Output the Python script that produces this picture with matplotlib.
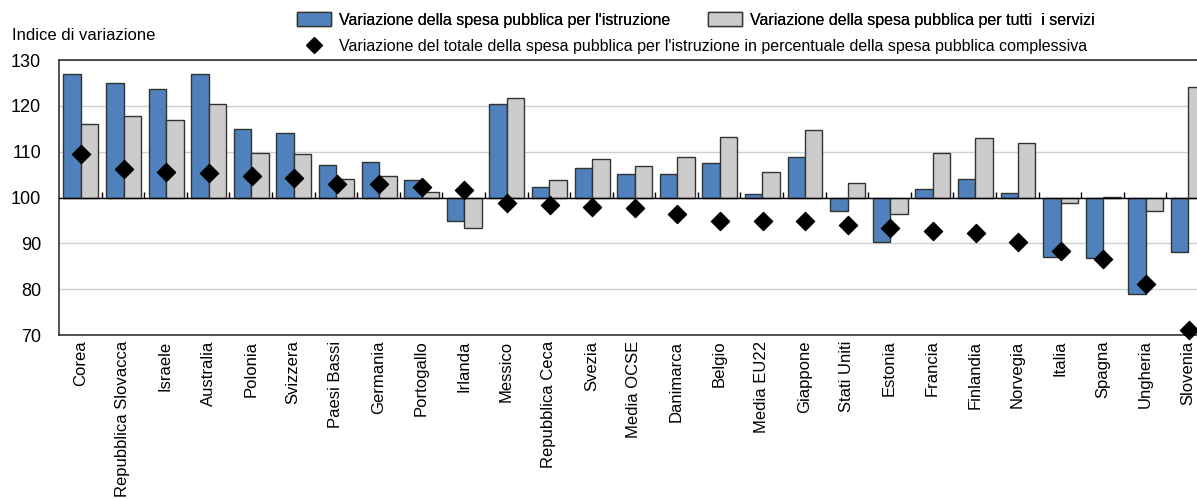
import matplotlib
matplotlib.use('Agg')
import matplotlib.pyplot as plt
from matplotlib.patches import Patch
from matplotlib.lines import Line2D
import numpy as np

plt.rcParams['font.family'] = ['Liberation Sans', 'DejaVu Sans']

# data
paesi = ['Corea', 'Repubblica Slovacca', 'Israele', 'Australia', 'Polonia', 'Svizzera',
         'Paesi Bassi', 'Germania', 'Portogallo', 'Irlanda', 'Messico', 'Repubblica Ceca',
         'Svezia', 'Media OCSE', 'Danimarca', 'Belgio', 'Media EU22', 'Giappone',
         'Stati Uniti', 'Estonia', 'Francia', 'Finlandia', 'Norvegia', 'Italia',
         'Spagna', 'Ungheria', 'Slovenia']
istruzione = [126.9, 125.0, 123.6, 126.9, 115.0, 114.0, 107.2, 107.7, 103.8, 94.9,
              120.4, 102.2, 106.5, 105.1, 105.1, 107.5, 100.8, 108.9, 97.0, 90.2,
              101.9, 104.0, 101.0, 87.1, 86.9, 78.9, 88.2]
tutti_servizi = [116.1, 117.7, 116.9, 120.4, 109.7, 109.4, 104.1, 104.8, 101.3, 93.3,
                 121.7, 103.8, 108.4, 106.8, 108.9, 113.2, 105.6, 114.8, 103.2, 96.5,
                 109.7, 112.9, 111.8, 98.7, 100.2, 97.0, 124.1]
quota = [109.4, 106.2, 105.5, 105.3, 104.8, 104.2, 103.0, 103.0, 102.2, 101.6,
         98.8, 98.3, 98.0, 97.8, 96.4, 94.8, 94.8, 94.8, 93.9, 93.3,
         92.7, 92.3, 90.3, 88.4, 86.6, 81.1, 71.1]

base = 100
blu = '#4F81BD'
grigio = '#CCCCCC'
bordo = '#333333'

fig = plt.figure(figsize=(11.97, 4.99), dpi=100)
# the axes run past the right edge, as in the original (Slovenia is cut)
ax = fig.add_axes([59/1197, 164/499, 1150/1197, 275/499])

x = np.arange(len(paesi))
w = 0.41
ist = np.array(istruzione)
tut = np.array(tutti_servizi)
ax.bar(x - 0.19, ist - base, w, bottom=base, color=blu, edgecolor=bordo, linewidth=1, zorder=3)
ax.bar(x + 0.22, tut - base, w, bottom=base, color=grigio, edgecolor=bordo, linewidth=1, zorder=3)
ax.scatter(x + 0.02, quota, marker='D', s=85, color='black', zorder=5, clip_on=False)

ax.axhline(base, color='black', linewidth=1, zorder=4)
# small ticks between countries on the 100 line
ax.vlines(x[1:] - 0.5, base, base + 1.1, color='black', linewidth=1, zorder=4)

ax.set_xlim(-0.5, len(paesi) - 0.5)
ax.set_ylim(70, 130)
ax.set_yticks(np.arange(70, 131, 10))
ax.tick_params(axis='y', labelsize=13, length=0, pad=13)
ax.set_xticks(x)
ax.set_xticklabels(paesi, rotation=90, fontsize=12)
ax.tick_params(axis='x', length=0, pad=4)
ax.yaxis.grid(True, color='#D0D0D0', linewidth=1, zorder=0)
ax.set_axisbelow(True)
for s in ax.spines.values():
    s.set_color('#333333')
    s.set_linewidth(1.2)

fig.text(12/1197, 1 - 35/499, 'Indice di variazione', fontsize=12, va='center', ha='left')

h1 = [Patch(facecolor=blu, edgecolor=bordo, label="Variazione della spesa pubblica per l'istruzione"),
      Patch(facecolor=grigio, edgecolor=bordo, label='Variazione della spesa pubblica per tutti  i servizi')]
leg1 = fig.legend(handles=h1, loc='center left', bbox_to_anchor=(297/1197, 1 - 20/499), ncol=2,
                  frameon=False, prop={'size': 11.5},
                  handlelength=2.1, handleheight=1.0, handletextpad=0.5, columnspacing=2.4,
                  borderpad=0, borderaxespad=0)
h2 = [Line2D([], [], marker='D', color='black', linestyle='none', markersize=8,
             label="Variazione del totale della spesa pubblica per l'istruzione in percentuale della spesa pubblica complessiva")]
fig.legend(handles=h2, loc='center left', bbox_to_anchor=(297/1197, 1 - 46/499),
           frameon=False, prop={'size': 11.5},
           handlelength=2.1, handletextpad=0.5, borderpad=0, borderaxespad=0)
fig.add_artist(leg1)

fig.savefig('out.png', dpi=100)
